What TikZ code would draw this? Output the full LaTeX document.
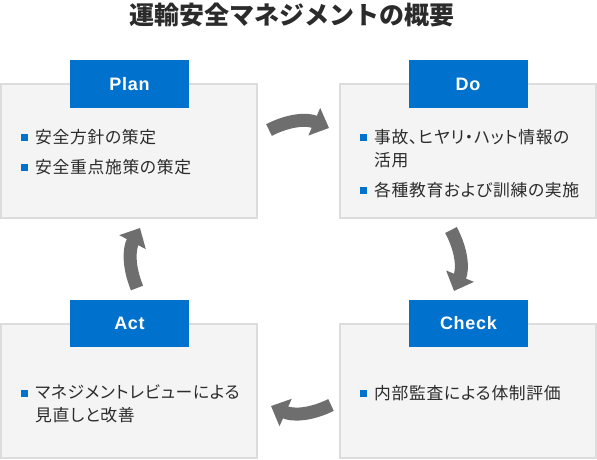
\documentclass[tikz,border=0pt]{standalone}
\usepackage{fontspec}
\setmainfont{Noto Sans CJK JP}
\newfontfamily\itemfont[RawFeature=+palt,LetterSpace=4]{Noto Sans CJK JP}
\newfontfamily\tagfont[LetterSpace=4]{Liberation Sans}
\usetikzlibrary{arrows.meta}
\definecolor{pdcablue}{HTML}{0072CE}
\definecolor{panelfill}{HTML}{F4F4F4}
\definecolor{panelline}{HTML}{DCDCDC}
\definecolor{arrowgray}{HTML}{6E6E6E}
\definecolor{textgray}{HTML}{2B2B2B}
\tikzset{
  panel/.style={draw=panelline, fill=panelfill, line width=2pt, minimum width=256pt, minimum height=134pt, inner sep=0pt},
  tag/.style={fill=pdcablue, text=white, font=\tagfont\bfseries\fontsize{18}{18}\selectfont, minimum width=119pt, minimum height=47pt, inner sep=0pt},
  item/.style={anchor=west, align=left, text=textgray, font=\itemfont\fontsize{16.8}{23}\selectfont, inner sep=0pt},
  bullet/.style={fill=pdcablue, minimum size=7pt, inner sep=0pt},
  turnarrow/.style={draw=arrowgray, line width=13pt, -{Triangle[length=16pt,width=29pt]}}
}

\begin{document}
\begin{tikzpicture}[x=1pt,y=-1pt]
\useasboundingbox (0,0) rectangle (597,460);
\node[text=textgray, font=\bfseries\fontsize{25}{25}\selectfont] (title) at (292,15) {運輸安全マネジメントの概要};

\node[panel] (planbox) at (129,151) {};
\node[panel] (dobox) at (468,151) {};
\node[panel] (actbox) at (129,391) {};
\node[panel] (checkbox) at (468,391) {};

\node[tag] (plan) at (129.5,84) {Plan};
\node[tag] (do) at (468,84) {Do};
\node[tag] (act) at (129.5,323.5) {Act};
\node[tag] (check) at (468.5,323.5) {Check};

\node[bullet] (b1) at (24,137) {};
\node[item] (p1) at (35,137) {安全方針の策定};
\node[bullet] (b2) at (24,167) {};
\node[item] (p2) at (35,167) {安全重点施策の策定};

\node[bullet] (b3) at (363,137) {};
\node[item] (d1) at (374,148.5) {事故、ヒヤリ・ハット情報の\\活用};
\node[bullet] (b4) at (363,190) {};
\node[item] (d2) at (374,190) {各種教育および訓練の実施};

\node[bullet] (b5) at (363,393) {};
\node[item] (c1) at (374,393) {内部監査による体制評価};

\node[bullet] (b6) at (24,393) {};
\node[item] (a1) at (35,404) {マネジメントレビューによる\\見直しと改善};

\coordinate (pd1) at (269,130);
\coordinate (pd2) at (329,128);
\coordinate (dc1) at (451,230);
\coordinate (dc2) at (454,291);
\coordinate (ca1) at (331,405);
\coordinate (ca2) at (271,406);
\coordinate (ap1) at (137,288);
\coordinate (ap2) at (140,228);

\draw[turnarrow] (pd1) to[bend left=25] (pd2);
\draw[turnarrow] (dc1) to[bend left=25] (dc2);
\draw[turnarrow] (ca1) to[bend left=25] (ca2);
\draw[turnarrow] (ap1) to[bend left=25] (ap2);
\end{tikzpicture}
\end{document}
